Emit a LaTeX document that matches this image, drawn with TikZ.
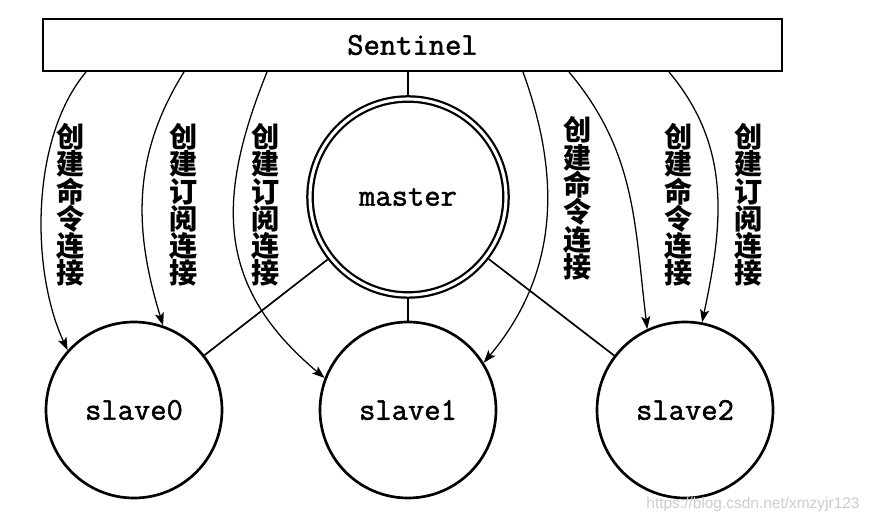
\documentclass[tikz,border=0pt]{standalone}
\usepackage{fontspec}
\newfontfamily\srvfont{Latin Modern Mono}[FakeBold=1.6]
\newfontfamily\cjk{Noto Sans CJK SC}
\newfontfamily\marksf{Liberation Sans}
\usetikzlibrary{arrows.meta}

\begin{document}
\begin{tikzpicture}[
    box/.style={draw, line width=1.4pt, minimum width=18.475cm, minimum height=1.3cm, inner sep=0pt},
    srv/.style={circle, draw, line width=1.9pt, minimum size=4.4cm, inner sep=0pt},
    link/.style={line width=1.2pt},
    conn/.style={->, line width=0.9pt},
    vlabel/.style={align=center, inner sep=0pt, font=\cjk\bfseries\fontsize{20pt}{19.4pt}\selectfont},
    >={Stealth[length=9pt, width=6.5pt, inset=2pt]},
    font=\srvfont\fontsize{22.5pt}{26pt}\selectfont
]
    \useasboundingbox (0,0) rectangle (21.8,13.05);

    % 节点定义
    \node[box] (sentinel) at (10.3125, 11.925) {Sentinel};
    \node[srv, line width=1.6pt, double, double distance=2.2pt, outer sep=2.7pt, minimum size=4.9cm] (master) at (10.2, 8.125) {master};
    \node[srv] (slave0) at (3.35, 2.8) {slave0};
    \node[srv] (slave1) at (10.2, 2.8) {slave1};
    \node[srv] (slave2) at (17.125, 2.8) {slave2};

    % 1. 主从之间的连线
    \draw[link] (master) -- (master |- sentinel.south);
    \draw[link] (master) -- (slave0);
    \draw[link] (master) -- (slave1);
    \draw[link] (master) -- (slave2);

    % 2. 左侧三条弧线
    \draw[conn] ([xshift=1.1cm]sentinel.south west) to[out=-130, in=115, looseness=0.8] (slave0.138);
    \draw[conn] ([xshift=3.55cm]sentinel.south west) to[out=-122, in=107] (slave0.71);
    \draw[conn] ([xshift=5.625cm]sentinel.south west) to[out=-112, in=140, looseness=1.15] (slave1.159);

    % 3. 右侧三条弧线
    \draw[conn] ([xshift=-6.5cm]sentinel.south east) to[out=-70, in=50] (slave1.32);
    \draw[conn] ([xshift=-5.35cm]sentinel.south east) to[out=-50, in=97] (slave2.115);
    \draw[conn] ([xshift=-2.85cm]sentinel.south east) to[out=-50, in=78] (slave2.79);

    % 竖排标签
    \node[vlabel] (lab1) at (1.775, 7.925) {创\\建\\命\\令\\连\\接};
    \node[vlabel] (lab2) at (4.6, 7.925) {创\\建\\订\\阅\\连\\接};
    \node[vlabel] (lab3) at (6.65, 7.925) {创\\建\\订\\阅\\连\\接};
    \node[vlabel] (lab4) at (14.44, 8.09) {创\\建\\命\\令\\连\\接};
    \node[vlabel] (lab5) at (16.96, 7.925) {创\\建\\命\\令\\连\\接};
    \node[vlabel] (lab6) at (18.71, 7.925) {创\\建\\订\\阅\\连\\接};

    % 水印
    \node[font=\marksf\fontsize{11pt}{13pt}\selectfont, text=gray!40, inner sep=0pt] (mark) at (18.825, 0.425) {https://blog.csdn.net/xmzyjr123};

\end{tikzpicture}
\end{document}
